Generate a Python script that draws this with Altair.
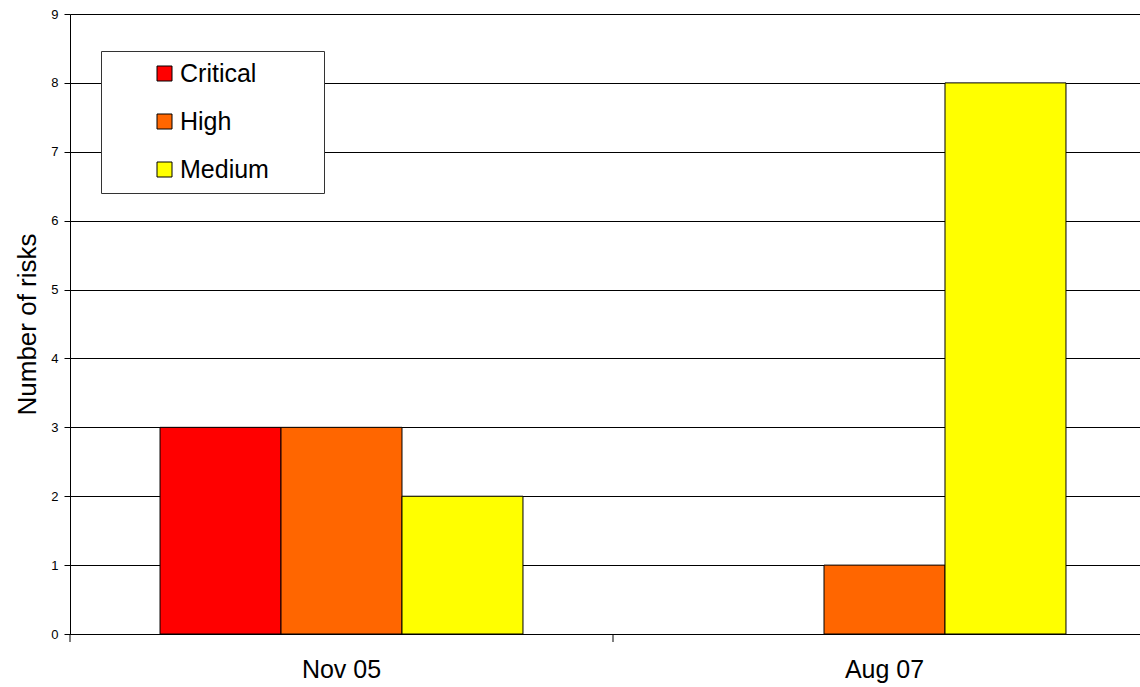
import altair as alt
import pandas as pd

categories = ["Nov 05", "Aug 07"]
levels = ["Critical", "High", "Medium"]
critical = [3, 0]
high = [3, 1]
medium = [2, 8]
colors = ["#FF0000", "#FF6600", "#FFFF00"]

rows = []
for i, p in enumerate(categories):
    for lvl, vals in zip(levels, [critical, high, medium]):
        rows.append({"period": p, "level": lvl, "count": vals[i]})
df = pd.DataFrame(rows)
ticks_df = pd.DataFrame({"period": categories})

FONT = "Liberation Sans"

xscale = alt.Scale(domain=categories, range=[0, 1086], paddingInner=0, paddingOuter=0)
xaxis = alt.Axis(title=None, ticks=False, labelFontSize=25, labelFont=FONT,
                 labelColor="black", labelPadding=23, labelAngle=0,
                 domainColor="black", grid=False)

bars = alt.Chart(df).mark_bar(stroke="black", strokeWidth=1).encode(
    x=alt.X("period:N", sort=categories, scale=xscale, axis=xaxis),
    xOffset=alt.XOffset("level:N", sort=levels,
                        scale=alt.Scale(domain=levels, paddingOuter=0.744, paddingInner=0)),
    y=alt.Y("count:Q", scale=alt.Scale(domain=[0, 9], nice=False),
            axis=alt.Axis(values=list(range(10)), title="Number of risks",
                          titleFontSize=26, titleFont=FONT, titleFontWeight="normal",
                          titleColor="black", titlePadding=10,
                          labelFontSize=13, labelFont=FONT, labelColor="black",
                          labelPadding=6, tickSize=6, tickColor="black",
                          labelFlush=False,
                          domainColor="black", gridColor="black", gridOpacity=1)),
    color=alt.Color("level:N", sort=levels,
                    scale=alt.Scale(domain=levels, range=colors),
                    legend=alt.Legend(orient="none", legendX=31, legendY=37,
                                      title="\u00a0", titleOrient="right", titlePadding=45,
                                      titleFontSize=20,
                                      fillColor="white", strokeColor="#333333",
                                      padding=10, symbolOffset=41,
                                      symbolType="square", symbolSize=225,
                                      symbolStrokeColor="black", symbolStrokeWidth=1,
                                      symbolOpacity=1,
                                      labelFontSize=25, labelFont=FONT, labelColor="black",
                                      labelOffset=3, rowPadding=22)),
).transform_filter("datum.count > 0")

tick_marks = alt.Chart(ticks_df).mark_rule(color="black", strokeWidth=1).encode(
    x=alt.X("period:N", sort=categories, bandPosition=0, scale=xscale, axis=xaxis),
    y=alt.value(620),
    y2=alt.value(628),
)

chart = alt.layer(bars, tick_marks).properties(
    width=1070, height=620,
    autosize=alt.AutoSizeParams(type="none"),
    padding={"left": 70, "top": 14, "right": 0, "bottom": 53},
).configure_view(strokeWidth=0).configure(background="white")

chart.save("out.html", embed_options={"renderer": "svg", "actions": False})
